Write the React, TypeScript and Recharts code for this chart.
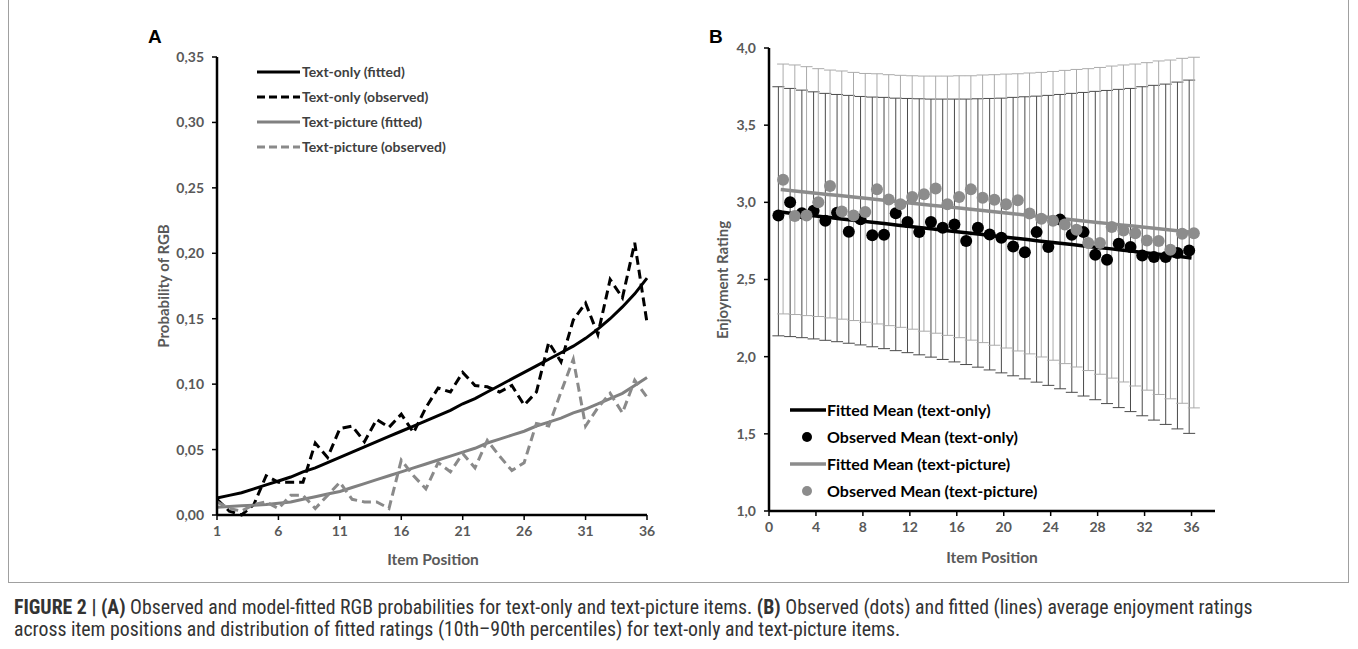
import React from 'react';
import { ComposedChart, Line, Scatter, XAxis, YAxis, ErrorBar, Legend, Label } from 'recharts';

// ---------- Panel A data ----------
const positions = [1,2,3,4,5,6,7,8,9,10,11,12,13,14,15,16,17,18,19,20,21,22,23,24,25,26,27,28,29,30,31,32,33,34,35,36];
const aTextOnlyFitted = [0.013,0.015,0.017,0.020,0.023,0.026,0.029,0.033,0.036,0.040,0.044,0.048,0.052,0.056,0.060,0.064,0.068,0.072,0.076,0.080,0.085,0.089,0.094,0.099,0.104,0.109,0.114,0.119,0.124,0.129,0.135,0.142,0.150,0.159,0.169,0.181];
const aTextOnlyObserved = [0.012,0.003,0.000,0.008,0.030,0.025,0.025,0.025,0.055,0.044,0.066,0.068,0.056,0.073,0.067,0.077,0.063,0.082,0.097,0.094,0.109,0.099,0.098,0.094,0.099,0.084,0.094,0.132,0.117,0.149,0.162,0.138,0.180,0.166,0.208,0.147];
const aTextPictureFitted = [0.006,0.0065,0.007,0.0075,0.008,0.009,0.010,0.012,0.014,0.016,0.018,0.021,0.024,0.027,0.030,0.033,0.036,0.039,0.042,0.045,0.048,0.051,0.055,0.058,0.061,0.064,0.068,0.071,0.074,0.078,0.081,0.085,0.089,0.093,0.099,0.105];
const aTextPictureObserved = [0.010,0.005,0.003,0.008,0.010,0.005,0.015,0.015,0.005,0.015,0.025,0.012,0.010,0.010,0.005,0.042,0.030,0.020,0.040,0.033,0.047,0.036,0.057,0.045,0.034,0.040,0.070,0.068,0.094,0.119,0.068,0.082,0.093,0.078,0.103,0.090];
const aXTicks = [1,6,11,16,21,26,31,36];
const aYTicks = [0,0.05,0.10,0.15,0.20,0.25,0.30,0.35];

// ---------- Panel B data ----------
const bTextOnlyFitted = [2.937,2.928,2.920,2.911,2.903,2.894,2.886,2.877,2.869,2.861,2.852,2.844,2.835,2.827,2.818,2.810,2.801,2.793,2.784,2.776,2.767,2.759,2.750,2.742,2.733,2.725,2.716,2.708,2.700,2.691,2.683,2.674,2.666,2.657,2.649,2.640];
const bTextOnlyObserved = [2.915,3.0,2.93,2.945,2.88,2.933,2.81,2.89,2.786,2.79,2.93,2.872,2.807,2.872,2.836,2.857,2.749,2.836,2.792,2.77,2.714,2.677,2.807,2.71,2.888,2.79,2.807,2.66,2.628,2.732,2.71,2.656,2.645,2.645,2.671,2.688];
const bTextPictureFitted = [3.083,3.075,3.067,3.059,3.051,3.044,3.036,3.028,3.020,3.012,3.004,2.996,2.988,2.980,2.973,2.965,2.957,2.949,2.941,2.933,2.925,2.917,2.909,2.902,2.894,2.886,2.878,2.870,2.862,2.854,2.846,2.838,2.831,2.823,2.815,2.807];
const bTextPictureObserved = [3.147,2.911,2.915,3.0,3.106,2.94,2.915,2.937,3.084,3.019,2.987,3.034,3.052,3.089,2.987,3.034,3.084,3.03,3.017,2.987,3.013,2.927,2.894,2.88,2.857,2.823,2.736,2.736,2.84,2.818,2.80,2.753,2.749,2.693,2.797,2.80];
const bTextOnlyP10 = [2.135,2.130,2.123,2.115,2.106,2.097,2.087,2.076,2.064,2.052,2.039,2.026,2.012,1.997,1.982,1.966,1.949,1.932,1.914,1.895,1.876,1.856,1.835,1.814,1.792,1.769,1.745,1.721,1.696,1.670,1.644,1.617,1.589,1.561,1.532,1.503];
const bTextOnlyP90 = [3.749,3.738,3.727,3.716,3.706,3.699,3.693,3.686,3.682,3.680,3.675,3.673,3.671,3.669,3.669,3.669,3.669,3.671,3.673,3.675,3.680,3.684,3.688,3.693,3.699,3.706,3.712,3.719,3.725,3.732,3.738,3.749,3.758,3.766,3.779,3.792];
const bTextPictureP10 = [2.277,2.273,2.266,2.260,2.251,2.243,2.234,2.223,2.212,2.201,2.190,2.178,2.165,2.152,2.138,2.123,2.107,2.091,2.074,2.056,2.037,2.018,1.998,1.977,1.955,1.933,1.910,1.886,1.861,1.836,1.810,1.783,1.755,1.727,1.698,1.668];
const bTextPictureP90 = [3.896,3.890,3.879,3.866,3.857,3.851,3.842,3.835,3.833,3.827,3.823,3.820,3.818,3.818,3.818,3.820,3.820,3.825,3.827,3.831,3.833,3.838,3.842,3.848,3.855,3.861,3.866,3.874,3.883,3.890,3.896,3.905,3.916,3.922,3.933,3.940];
const bXTicks = [0,4,8,12,16,20,24,28,32,36];
const bYTicks = [1,1.5,2,2.5,3,3.5,4];

// ---------- tables ----------
const tableA = positions.map((p, i) => ({
  pos: p,
  toFit: aTextOnlyFitted[i],
  toObs: aTextOnlyObserved[i],
  tpFit: aTextPictureFitted[i],
  tpObs: aTextPictureObserved[i],
}));

const JITTER = 0.2;
const fitTO = positions.map((p, i) => ({ x: p, y: bTextOnlyFitted[i] }));
const fitTP = positions.map((p, i) => ({ x: p, y: bTextPictureFitted[i] }));
const obsTO = positions.map((p, i) => ({ x: p - JITTER, y: bTextOnlyObserved[i] }));
const obsTP = positions.map((p, i) => ({ x: p + JITTER, y: bTextPictureObserved[i] }));
const barsTO = positions.map((p, i) => ({ x: p - JITTER, y: bTextOnlyP10[i], err: [0, bTextOnlyP90[i] - bTextOnlyP10[i]] }));
const barsTP = positions.map((p, i) => ({ x: p + JITTER, y: bTextPictureP10[i], err: [0, bTextPictureP90[i] - bTextPictureP10[i]] }));

const FONT = 'Lato, "Open Sans", sans-serif';
const GREY_TXT = '#595959';

const legendA = [
  { label: 'Text-only (fitted)', color: '#000000', dash: false },
  { label: 'Text-only (observed)', color: '#000000', dash: true },
  { label: 'Text-picture (fitted)', color: '#808080', dash: false },
  { label: 'Text-picture (observed)', color: '#8a8a8a', dash: true },
];
const legendB = [
  { label: 'Fitted Mean (text-only)', color: '#000000', kind: 'line' },
  { label: 'Observed Mean (text-only)', color: '#000000', kind: 'dot' },
  { label: 'Fitted Mean (text-picture)', color: '#8c8c8c', kind: 'line' },
  { label: 'Observed Mean (text-picture)', color: '#8c8c8c', kind: 'dot' },
];

const LegendAContent = () => (
  <svg width={260} height={100} style={{ display: 'block' }}>
    {legendA.map((it, i) => (
      <g key={it.label}>
        <line x1={2} x2={45} y1={10 + i * 25} y2={10 + i * 25} stroke={it.color} strokeWidth={3} strokeDasharray={it.dash ? '8 4' : undefined} />
        <text x={47} y={10 + i * 25} dy="0.35em" fontFamily={FONT} fontWeight={700} fontSize={14} fill="#404040">{it.label}</text>
      </g>
    ))}
  </svg>
);

const LegendBContent = () => (
  <svg width={270} height={110} style={{ display: 'block' }}>
    {legendB.map((it, i) => (
      <g key={it.label}>
        {it.kind === 'line' ? (
          <line x1={0} x2={36} y1={10 + i * 27} y2={10 + i * 27} stroke={it.color} strokeWidth={3.5} />
        ) : (
          <circle cx={17} cy={10 + i * 27} r={5} fill={it.color} />
        )}
        <text x={37} y={10 + i * 27} dy="0.35em" fontFamily={FONT} fontWeight={700} fontSize={16} fill="#000">{it.label}</text>
      </g>
    ))}
  </svg>
);

const fmt2 = (v: number) => v.toFixed(2).replace('.', ',');
const fmt1 = (v: number) => v.toFixed(1).replace('.', ',');

const tickStyle = { fill: GREY_TXT, fontSize: 14, fontWeight: 700, fontFamily: FONT };

const RotTitle = (x: number, y: number, text: string) => () => (
  <text x={x} y={y} transform={`rotate(-90 ${x} ${y})`} textAnchor="middle" dominantBaseline="central" fontFamily={FONT} fontWeight={700} fontSize={15} fill={GREY_TXT}>{text}</text>
);
const HTitle = (x: number, y: number, text: string) => () => (
  <text x={x} y={y} textAnchor="middle" dominantBaseline="central" fontFamily={FONT} fontWeight={700} fontSize={15.5} fill={GREY_TXT}>{text}</text>
);

const Dot = (color: string) => (props: any) => (
  <circle cx={props.cx} cy={props.cy} r={6} fill={color} />
);
const Nothing = () => <g />;

export default function App() {
  return (
    <div style={{ position: 'absolute', left: 0, top: 0, width: 1358, height: 649, background: '#fff', overflow: 'hidden' }}>
      <div style={{ position: 'absolute', left: 8, top: -2, width: 1341, height: 585, border: '1px solid #a0a0a0', boxSizing: 'border-box' }} />
      <div style={{ position: 'absolute', left: 148, top: 26, fontFamily: 'Arial, "Liberation Sans", sans-serif', fontWeight: 700, fontSize: 19 }}>A</div>
      <div style={{ position: 'absolute', left: 709, top: 26, fontFamily: 'Arial, "Liberation Sans", sans-serif', fontWeight: 700, fontSize: 19 }}>B</div>

      <div style={{ position: 'absolute', left: 0, top: 0 }}>
        <ComposedChart width={700} height={580} data={tableA} margin={{ top: 57, right: 53, bottom: 0, left: 0 }}>
          <XAxis dataKey="pos" type="number" domain={[1, 36]} ticks={aXTicks} interval={0} height={65}
            axisLine={{ stroke: '#000', strokeWidth: 2.5 }} tickLine={{ stroke: '#000', strokeWidth: 1.5 }} tickSize={5}
            tick={tickStyle} tickMargin={6}>
            <Label content={HTitle(433, 559, 'Item Position')} />
          </XAxis>
          <YAxis type="number" domain={[0, 0.35]} ticks={aYTicks} interval={0} width={217} tickFormatter={fmt2}
            axisLine={{ stroke: '#000', strokeWidth: 2.5 }} tickLine={{ stroke: '#000', strokeWidth: 1.5 }} tickSize={5}
            tick={tickStyle} tickMargin={8}>
            <Label content={RotTitle(163, 286, 'Probability of RGB')} />
          </YAxis>
          <Legend layout="vertical" align="center" verticalAlign="middle" content={LegendAContent}
            wrapperStyle={{ left: 255, top: 62, width: 260, height: 100 }} />
          <Line dataKey="toFit" stroke="#000" strokeWidth={3} dot={false} isAnimationActive={false} />
          <Line dataKey="toObs" stroke="#000" strokeWidth={3} strokeDasharray="9 5" dot={false} isAnimationActive={false} />
          <Line dataKey="tpFit" stroke="#808080" strokeWidth={3} dot={false} isAnimationActive={false} />
          <Line dataKey="tpObs" stroke="#8a8a8a" strokeWidth={3} strokeDasharray="9 5" dot={false} isAnimationActive={false} />
        </ComposedChart>
      </div>

      <div style={{ position: 'absolute', left: 700, top: 0 }}>
        <ComposedChart width={658} height={580} margin={{ top: 48, right: 143, bottom: 0, left: 0 }}>
          <XAxis dataKey="x" type="number" domain={[0, 38]} ticks={bXTicks} interval={0} height={69}
            axisLine={{ stroke: '#000', strokeWidth: 2.5 }} tickLine={{ stroke: '#000', strokeWidth: 1.5 }} tickSize={5}
            tick={tickStyle} tickMargin={6}>
            <Label content={HTitle(292, 557, 'Item Position')} />
          </XAxis>
          <YAxis type="number" domain={[1, 4]} ticks={bYTicks} interval={0} width={69} tickFormatter={fmt1}
            axisLine={{ stroke: '#000', strokeWidth: 2.5 }} tickLine={{ stroke: '#000', strokeWidth: 1.5 }} tickSize={5}
            tick={tickStyle} tickMargin={8}>
            <Label content={RotTitle(22, 280, 'Enjoyment Rating')} />
          </YAxis>
          <Legend layout="vertical" align="center" verticalAlign="middle" content={LegendBContent}
            wrapperStyle={{ left: 90, top: 400, width: 270, height: 110 }} />
          <Scatter data={barsTO} dataKey="y" shape={Nothing} isAnimationActive={false}>
            <ErrorBar dataKey="err" direction="y" width={6} stroke="#4a4a4a" strokeWidth={1} isAnimationActive={false} />
          </Scatter>
          <Scatter data={barsTP} dataKey="y" shape={Nothing} isAnimationActive={false}>
            <ErrorBar dataKey="err" direction="y" width={6} stroke="#ababab" strokeWidth={1} isAnimationActive={false} />
          </Scatter>
          <Line data={fitTO} dataKey="y" stroke="#000" strokeWidth={3.5} dot={false} isAnimationActive={false} />
          <Line data={fitTP} dataKey="y" stroke="#8c8c8c" strokeWidth={3.5} dot={false} isAnimationActive={false} />
          <Scatter data={obsTO} dataKey="y" shape={Dot('#000')} isAnimationActive={false} />
          <Scatter data={obsTP} dataKey="y" shape={Dot('#8c8c8c')} isAnimationActive={false} />
        </ComposedChart>
      </div>

      <div style={{ position: 'absolute', left: 14, top: 597, width: 1340, fontFamily: '"Liberation Sans Narrow", "Arial Narrow", "Roboto Condensed", "Liberation Sans", sans-serif', fontSize: 19.8, lineHeight: '22px', color: '#333', whiteSpace: 'nowrap' }}>
        <b>FIGURE 2 | (A)</b> Observed and model-fitted RGB probabilities for text-only and text-picture items. <b>(B)</b> Observed (dots) and fitted (lines) average enjoyment ratings<br />
        across item positions and distribution of fitted ratings (10th–90th percentiles) for text-only and text-picture items.
      </div>
    </div>
  );
}
